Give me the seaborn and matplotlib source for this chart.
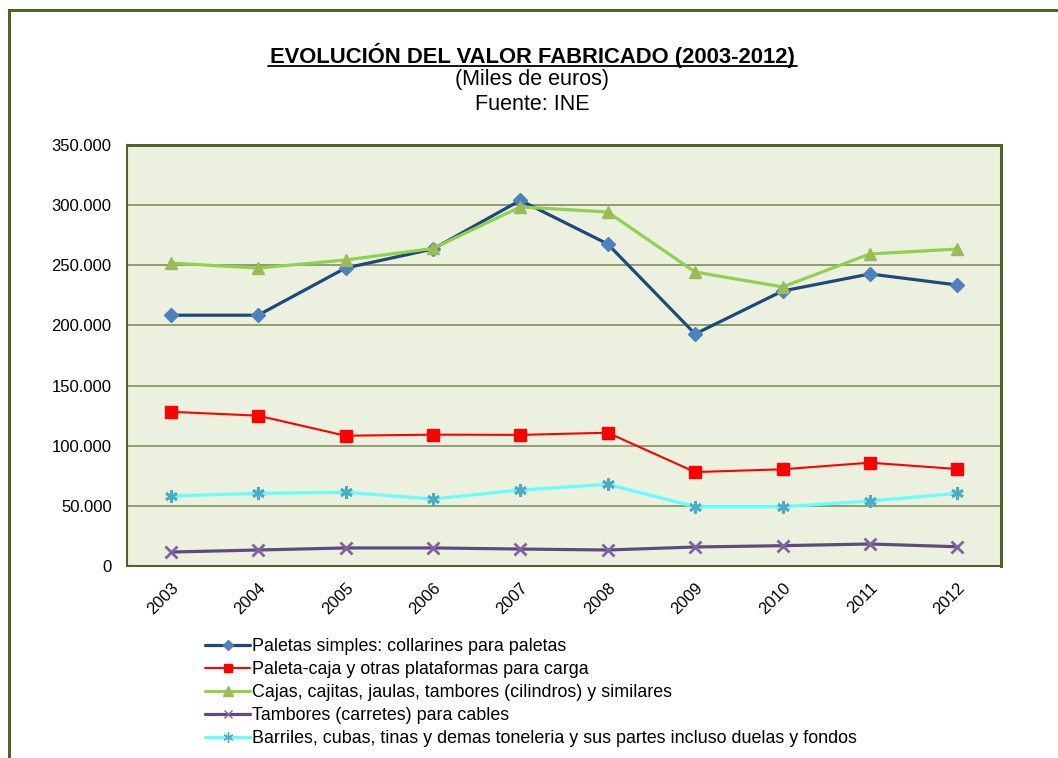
import matplotlib
matplotlib.use("Agg")
import matplotlib.pyplot as plt
import matplotlib.ticker as mticker
import numpy as np
import pandas as pd
import seaborn as sns
from matplotlib.patches import Rectangle
from matplotlib.lines import Line2D

years = ["2003", "2004", "2005", "2006", "2007", "2008", "2009", "2010", "2011", "2012"]

paletas_simples = [208500, 208500, 247700, 263500, 304000, 267700, 192900, 228600, 242800, 233600]
paleta_caja = [128200, 125000, 108300, 109200, 109000, 110800, 78100, 80400, 85900, 80600]
cajas_cajitas = [251900, 247700, 254400, 264000, 298500, 294300, 244400, 232000, 259400, 263500]
tambores_cables = [11600, 13300, 15000, 15000, 14100, 13300, 15800, 16900, 18300, 16000]
barriles_cubas = [58200, 60400, 61300, 55700, 63200, 67900, 49300, 49300, 54000, 60400]

series_names = [
    "Paletas simples: collarines para paletas",
    "Paleta-caja y otras plataformas para carga",
    "Cajas, cajitas, jaulas, tambores (cilindros) y similares",
    "Tambores (carretes) para cables",
    "Barriles, cubas, tinas y demas toneleria y sus partes incluso duelas y fondos",
]
series_values = [paletas_simples, paleta_caja, cajas_cajitas, tambores_cables, barriles_cubas]

styles = [
    dict(color="#1F497D", marker="D", mfc="#4F81BD", ms=7, lw=2.3),
    dict(color="#FF0000", marker="s", mfc="#FF0000", ms=8, lw=1.5),
    dict(color="#92D050", marker="^", mfc="#9BBB59", ms=9, lw=2.3),
    dict(color="#604A7B", marker="x", mfc="#8064A2", ms=8, lw=2.3),
    dict(color="#66FFFF", marker=(6, 2, 0), mfc="#4BACC6", ms=9, lw=2.3),
]

sns.set_style("white")
plt.rcParams["font.family"] = ["Liberation Sans", "DejaVu Sans"]
plt.rcParams["text.color"] = "black"

fig = plt.figure(figsize=(10.58, 7.58), dpi=100)
ax = fig.add_axes([127 / 1058, 1 - 566 / 758, (1001 - 127) / 1058, (566 - 145) / 758])
ax.set_facecolor("#EBF1DE")

x_pos = np.arange(len(years))
for name, vals, st in zip(series_names, series_values, styles):
    df = pd.DataFrame({"x": x_pos, "y": vals})
    sns.lineplot(data=df, x="x", y="y", ax=ax, color=st["color"], linewidth=st["lw"],
                 marker=st["marker"], markersize=st["ms"], markerfacecolor=st["mfc"],
                 markeredgecolor=st["mfc"], markeredgewidth=2 if st["marker"] in ("x", (6, 2, 0)) else 1,
                 label=name, legend=False, zorder=3)

ax.set_xlim(-0.5, 9.5)
ax.set_ylim(0, 350000)
ax.set_yticks(np.arange(0, 350001, 50000))
ax.yaxis.set_major_formatter(mticker.FuncFormatter(
    lambda v, p: "0" if v == 0 else f"{int(v):,}".replace(",", ".")))
ax.grid(axis="y", color="#7F8F5A", linewidth=1.2, zorder=1)
ax.set_axisbelow(True)

ax.set_xticks(x_pos)
ax.set_xticklabels(years, rotation=45, ha="right", rotation_mode="anchor", fontsize=12)
ax.set_xticks(np.arange(-0.5, 10, 1), minor=True)
ax.tick_params(axis="x", which="major", length=0, pad=10, labelcolor="black")
ax.tick_params(axis="x", which="minor", length=6, width=1, color="#333333", direction="out")
ax.tick_params(axis="y", length=5, width=1, color="#333333", direction="out", labelsize=12,
               pad=6, labelcolor="black")
ax.set_xlabel("")
ax.set_ylabel("")

for side in ["top", "right"]:
    ax.spines[side].set_color("#4F6228")
    ax.spines[side].set_linewidth(2.2)
for side in ["left", "bottom"]:
    ax.spines[side].set_color("#4F6228")
    ax.spines[side].set_linewidth(1.5)

fig.text(532 / 1058, 1 - 55 / 758, "EVOLUCIÓN DEL VALOR FABRICADO (2003-2012)",
         ha="center", va="center", fontsize=15.8, fontweight="bold")
fig.add_artist(Line2D([268 / 1058, 797 / 1058], [1 - 66 / 758, 1 - 66 / 758],
                      color="black", linewidth=1.3))
fig.text(532 / 1058, 1 - 80 / 758, "(Miles de euros)", ha="center", va="center", fontsize=15.5)
fig.text(532 / 1058, 1 - 104 / 758, "Fuente: INE", ha="center", va="center", fontsize=15.5)

handles = []
for name, st in zip(series_names, styles):
    handles.append(Line2D([0], [0], color=st["color"], linewidth=st["lw"], marker=st["marker"],
                          markersize=st["ms"] * 0.8, markerfacecolor=st["mfc"],
                          markeredgecolor=st["mfc"], label=name))
fig.legend(handles=handles, loc="upper left", bbox_to_anchor=(198 / 1058, 1 - 631 / 758),
           frameon=False, fontsize=12.9, handlelength=2.5, handletextpad=0.1,
           labelspacing=0.33, borderaxespad=0)

fig.add_artist(Rectangle((9 / 1058, -0.05), 1.2, 1 - 10 / 758 + 0.05, transform=fig.transFigure,
                         fill=False, edgecolor="#4F6228", linewidth=2.2))

fig.savefig("out.png", dpi=100)
